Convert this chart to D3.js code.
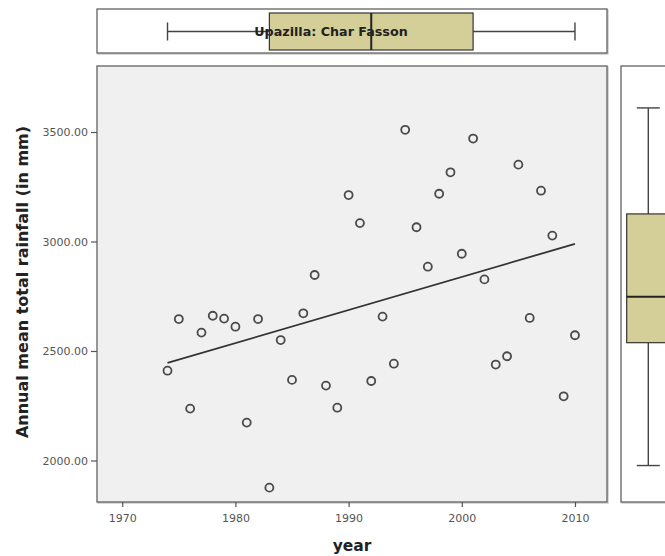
<!DOCTYPE html>
<html>
<head>
<meta charset="utf-8">
<script src="https://cdn.jsdelivr.net/npm/d3@7"></script>
<style>
  body { margin: 0; background: #fff; }
  svg { display: block; font-family: "DejaVu Sans", sans-serif; }
</style>
</head>
<body>
<svg width="665" height="556"></svg>
<script>
const years = [1974, 1975, 1976, 1977, 1978, 1979, 1980, 1981, 1982, 1983,
  1984, 1985, 1986, 1987, 1988, 1989, 1990, 1991, 1992, 1993, 1994, 1995,
  1996, 1997, 1998, 1999, 2000, 2001, 2002, 2003, 2004, 2005, 2006, 2007,
  2008, 2009, 2010]
const rainfall = [2410, 2646, 2237, 2584, 2661, 2648, 2611, 2173, 2646, 1876,
  2550, 2368, 2672, 2847, 2342, 2241, 3212, 3084, 2363, 2657, 2442, 3510,
  3065, 2885, 3218, 3316, 2944, 3470, 2827, 2438, 2476, 3351, 2651, 3232,
  3027, 2293, 2572]
// right-hand box plot as drawn: lower whisker, Q1, median, Q3, upper whisker
const rightBox = [1977, 2538, 2748, 3126, 3610]
const yTicks = [2000, 2500, 3000, 3500]
const xTicks = [1970, 1980, 1990, 2000, 2010]

const data = years.map((y, i) => ({ year: y, rain: rainfall[i] }))

let svg = d3.select('svg')
let pLeft = 97, pRight = 607, pTop = 66, pBottom = 502

let xScale = d3.scaleLinear()
                .domain([1967.77, 2012.83])
                .range([pLeft, pRight])
let yScale = d3.scaleLinear()
                .domain([1810.5, 3801.4])
                .range([pBottom, pTop])

let panelStroke = '#555'
let boxFill = '#d4cf98'

// faint shadows behind the panels
function panel(x, y, w, h, fill) {
  svg.append('rect')
      .attr('x', x + 1).attr('y', y + 1)
      .attr('width', w).attr('height', h)
      .attr('fill', 'none')
      .attr('stroke', '#ccc')
      .attr('stroke-width', 1.5)
  svg.append('rect')
      .attr('x', x).attr('y', y)
      .attr('width', w).attr('height', h)
      .attr('fill', fill)
      .attr('stroke', panelStroke)
      .attr('stroke-width', 1.2)
}

panel(pLeft, 9, pRight - pLeft, 44, '#fff')
panel(pLeft, pTop, pRight - pLeft, pBottom - pTop, '#f0f0f0')
panel(621, pTop, 80, pBottom - pTop, '#fff')

// axes
let xAxis = d3.axisBottom(xScale)
              .tickValues(xTicks)
              .tickFormat(d3.format('d'))
              .tickSize(5)
              .tickSizeOuter(0)
let yAxis = d3.axisLeft(yScale)
              .tickValues(yTicks)
              .tickFormat(d3.format('.2f'))
              .tickSize(6)
              .tickSizeOuter(0)

let gx = svg.append('g')
    .attr('transform', `translate(0, ${pBottom})`)
    .call(xAxis)
let gy = svg.append('g')
    .attr('transform', `translate(${pLeft}, 0)`)
    .call(yAxis)

for (let g of [gx, gy]) {
  g.select('.domain').remove()
  g.selectAll('line').attr('stroke', panelStroke).attr('stroke-width', 1.2)
  g.selectAll('text')
    .attr('fill', '#555')
    .style('font-size', '11px')
    .style('font-family', '"DejaVu Sans", sans-serif')
}
gx.selectAll('text').attr('dy', '1.05em')

// regression line (least squares fit of the points)
let mx = d3.mean(data, d => d.year)
let my = d3.mean(data, d => d.rain)
let slope = d3.sum(data, d => (d.year - mx) * (d.rain - my)) /
            d3.sum(data, d => (d.year - mx) ** 2)
let fit = x => my + slope * (x - mx)
let ext = d3.extent(years)

svg.append('line')
    .attr('x1', xScale(ext[0])).attr('y1', yScale(fit(ext[0])))
    .attr('x2', xScale(ext[1])).attr('y2', yScale(fit(ext[1])))
    .attr('stroke', '#333')
    .attr('stroke-width', 1.8)

svg.selectAll('circle.pt')
  .data(data)
  .enter()
  .append('circle')
    .attr('class', 'pt')
    .attr('cx', d => xScale(d.year))
    .attr('cy', d => yScale(d.rain))
    .attr('r', 4)
    .attr('fill', 'none')
    .attr('stroke', '#4a4a4a')
    .attr('stroke-width', 1.8)

// top box plot of year
let ys = years.slice().sort(d3.ascending)
let yq = [d3.min(ys), d3.quantile(ys, 0.25), d3.median(ys), d3.quantile(ys, 0.75), d3.max(ys)]
let midY = 31.5
let topBox = svg.append('g')
topBox.append('line')
    .attr('x1', xScale(yq[0])).attr('x2', xScale(yq[4]))
    .attr('y1', midY).attr('y2', midY)
    .attr('stroke', '#444').attr('stroke-width', 1.4)
for (let v of [yq[0], yq[4]]) {
  topBox.append('line')
      .attr('x1', xScale(v)).attr('x2', xScale(v))
      .attr('y1', midY - 9).attr('y2', midY + 9)
      .attr('stroke', '#444').attr('stroke-width', 1.4)
}
topBox.append('rect')
    .attr('x', xScale(yq[1])).attr('y', 13)
    .attr('width', xScale(yq[3]) - xScale(yq[1]))
    .attr('height', 37)
    .attr('fill', boxFill)
    .attr('stroke', '#333').attr('stroke-width', 1.2)
topBox.append('line')
    .attr('x1', xScale(yq[2])).attr('x2', xScale(yq[2]))
    .attr('y1', 13).attr('y2', 50)
    .attr('stroke', '#222').attr('stroke-width', 2)

svg.append('text')
    .attr('x', 331)
    .attr('y', 36)
    .style('text-anchor', 'middle')
    .style('font-size', '12.7px')
    .style('font-weight', 'bold')
    .attr('fill', '#222')
    .text('Upazilla: Char Fasson')

// right box plot of rainfall
let bx = 648.3
let rb = svg.append('g')
rb.append('line')
    .attr('x1', bx).attr('x2', bx)
    .attr('y1', yScale(rightBox[0])).attr('y2', yScale(rightBox[4]))
    .attr('stroke', '#444').attr('stroke-width', 1.4)
for (let v of [rightBox[0], rightBox[4]]) {
  rb.append('line')
      .attr('x1', bx - 11.5).attr('x2', bx + 11.5)
      .attr('y1', yScale(v)).attr('y2', yScale(v))
      .attr('stroke', '#444').attr('stroke-width', 1.4)
}
rb.append('rect')
    .attr('x', 626.7).attr('y', yScale(rightBox[3]))
    .attr('width', 60)
    .attr('height', yScale(rightBox[1]) - yScale(rightBox[3]))
    .attr('fill', boxFill)
    .attr('stroke', '#333').attr('stroke-width', 1.2)
rb.append('line')
    .attr('x1', 626.7).attr('x2', 686.7)
    .attr('y1', yScale(rightBox[2])).attr('y2', yScale(rightBox[2]))
    .attr('stroke', '#222').attr('stroke-width', 2)

// axis titles
svg.append('text')
    .attr('transform', 'rotate(-90)')
    .attr('x', -282)
    .attr('y', 28)
    .style('text-anchor', 'middle')
    .style('font-size', '16px')
    .style('font-weight', 'bold')
    .attr('fill', '#222')
    .text('Annual mean total rainfall (in mm)')

svg.append('text')
    .attr('x', 352)
    .attr('y', 551)
    .style('text-anchor', 'middle')
    .style('font-size', '15.5px')
    .style('font-weight', 'bold')
    .attr('fill', '#222')
    .text('year')
</script>
</body>
</html>
